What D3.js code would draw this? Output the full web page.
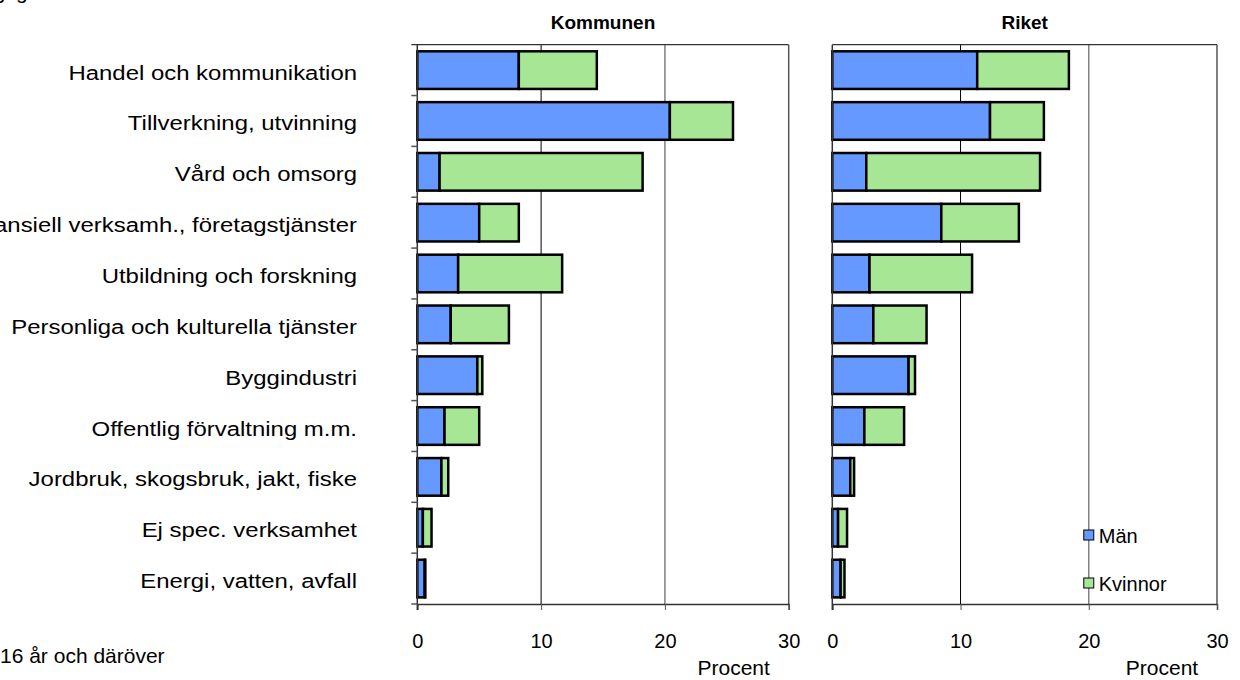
<!DOCTYPE html>
<html>
<head>
<meta charset="utf-8">
<script src="https://cdn.jsdelivr.net/npm/d3@7"></script>
<style>
  body { margin: 0; background: #fff; }
  svg { font-family: "Liberation Sans", Arial, sans-serif; }
</style>
</head>
<body>
<svg id="chart" width="1240" height="680"></svg>
<script>
// categories, top to bottom
const categories = [
  'Handel och kommunikation',
  'Tillverkning, utvinning',
  'Vård och omsorg',
  'Finansiell verksamh., företagstjänster',
  'Utbildning och forskning',
  'Personliga och kulturella tjänster',
  'Byggindustri',
  'Offentlig förvaltning m.m.',
  'Jordbruk, skogsbruk, jakt, fiske',
  'Ej spec. verksamhet',
  'Energi, vatten, avfall'
];

// Kommunen, percent
const kommunenMan = [8.2, 20.4, 1.8, 5.0, 3.3, 2.7, 4.85, 2.2, 1.95, 0.45, 0.6];
const kommunenKvinnor = [6.3, 5.1, 16.4, 3.2, 8.4, 4.7, 0.4, 2.8, 0.55, 0.7, 0.05];

// Riket, percent
const riketMan = [11.3, 12.3, 2.65, 8.5, 2.9, 3.2, 5.95, 2.5, 1.4, 0.45, 0.65];
const riketKvinnor = [7.15, 4.2, 13.55, 6.05, 8.0, 4.15, 0.5, 3.1, 0.3, 0.7, 0.3];

const seriesNames = ['Män', 'Kvinnor'];
const colors = ['#6699FF', '#A6E694'];
const xTicks = [0, 10, 20, 30];

const svg = d3.select('#chart');

// cut off heading at the very top
svg.append('text')
  .attr('x', 58)
  .attr('y', -1)
  .attr('text-anchor', 'end')
  .attr('font-size', 21)
  .text('Förvärvsarbetande efter näringsgren');

const yScale = d3.scaleBand()
  .domain(categories)
  .range([44.7, 604])
  .paddingInner(0.26)
  .paddingOuter(0.13);

// category labels (original labels are a bit wider than plain Arial)
svg.append('g')
  .attr('transform', 'translate(357,0) scale(1.14,1)')
  .selectAll('text')
  .data(categories)
  .join('text')
  .attr('x', 0)
  .attr('y', (d) => yScale(d) + yScale.bandwidth() / 2 + 9.5)
  .attr('text-anchor', 'end')
  .attr('font-size', 21)
  .text((d) => d);

const drawPanel = (title, man, kvinnor, x0, x1, showYTicks) => {
  const xScale = d3.scaleLinear().domain([0, 30]).range([x0, x1]);
  const top = 44.7;
  const bottom = 604;
  const g = svg.append('g');

  // grid lines
  g.selectAll('.grid')
    .data([10, 20])
    .join('line')
    .attr('x1', (d) => xScale(d))
    .attr('x2', (d) => xScale(d))
    .attr('y1', top)
    .attr('y2', bottom)
    .attr('stroke', (d) => (d === 20 ? '#808080' : '#000'))
    .attr('stroke-width', (d) => (d === 20 ? 1.5 : 1));

  // plot border top and right
  g.append('line')
    .attr('x1', xScale(0) - (showYTicks ? 6 : 0))
    .attr('x2', xScale(30))
    .attr('y1', top)
    .attr('y2', top)
    .attr('stroke', '#333')
    .attr('stroke-width', 1.2);
  g.append('line')
    .attr('x1', xScale(30))
    .attr('x2', xScale(30))
    .attr('y1', top)
    .attr('y2', bottom)
    .attr('stroke', '#555')
    .attr('stroke-width', 1.5);

  // stacked bars
  const rows = categories.map((c, i) => ({ cat: c, Män: man[i], Kvinnor: kvinnor[i] }));
  const stacked = d3.stack().keys(seriesNames)(rows);

  stacked.forEach((layer, li) => {
    g.append('g')
      .selectAll('rect')
      .data(layer)
      .join('rect')
      .attr('x', (d) => xScale(d[0]))
      .attr('y', (d) => yScale(d.data.cat))
      .attr('width', (d) => xScale(d[1]) - xScale(d[0]))
      .attr('height', yScale.bandwidth())
      .attr('fill', colors[li])
      .attr('stroke', '#000')
      .attr('stroke-width', 2.5);
  });

  // x axis
  const xAxis = d3.axisBottom(xScale).tickValues(xTicks).tickSize(6).tickPadding(24);
  const ax = g.append('g')
    .attr('transform', `translate(0,${bottom})`)
    .call(xAxis);
  ax.select('.domain').attr('stroke', '#333').attr('stroke-width', 1.5);
  ax.selectAll('.tick line').attr('stroke', '#555');
  ax.selectAll('.tick text')
    .attr('font-size', 20)
    .attr('font-family', '"Liberation Sans", Arial, sans-serif')
    .attr('fill', '#000');

  // y axis line
  g.append('line')
    .attr('x1', xScale(0))
    .attr('x2', xScale(0))
    .attr('y1', top)
    .attr('y2', bottom + 6)
    .attr('stroke', '#333')
    .attr('stroke-width', 1.5);

  if (showYTicks) {
    const step = (bottom - top) / categories.length;
    g.selectAll('.ytick')
      .data(d3.range(1, categories.length + 1))
      .join('line')
      .attr('x1', xScale(0) - 6)
      .attr('x2', xScale(0))
      .attr('y1', (i) => top + i * step)
      .attr('y2', (i) => top + i * step)
      .attr('stroke', '#555')
      .attr('stroke-width', 1.5);
  }

  // titles
  g.append('text')
    .attr('x', (x0 + x1) / 2)
    .attr('y', 29)
    .attr('text-anchor', 'middle')
    .attr('font-size', 19)
    .attr('font-weight', 'bold')
    .text(title);

  g.append('text')
    .attr('x', xScale(30) - 55)
    .attr('y', 675)
    .attr('text-anchor', 'middle')
    .attr('font-size', 21)
    .text('Procent');

  return xScale;
};

drawPanel('Kommunen', kommunenMan, kommunenKvinnor, 417.3, 788.7, true);
const riketX = drawPanel('Riket', riketMan, riketKvinnor, 832.3, 1217, false);

// legend
const legend = svg.append('g');
seriesNames.forEach((name, i) => {
  const ly = 530 + i * 48;
  legend.append('rect')
    .attr('x', riketX(20) - 5)
    .attr('y', ly)
    .attr('width', 10)
    .attr('height', 10)
    .attr('fill', colors[i])
    .attr('stroke', '#000')
    .attr('stroke-width', 1);
  legend.append('text')
    .attr('x', riketX(20) + 10)
    .attr('y', ly + 13)
    .attr('font-size', 20)
    .text(name);
});

// footnote
svg.append('text')
  .attr('x', 0)
  .attr('y', 663)
  .attr('font-size', 21)
  .text('16 år och däröver');
</script>
</body>
</html>
